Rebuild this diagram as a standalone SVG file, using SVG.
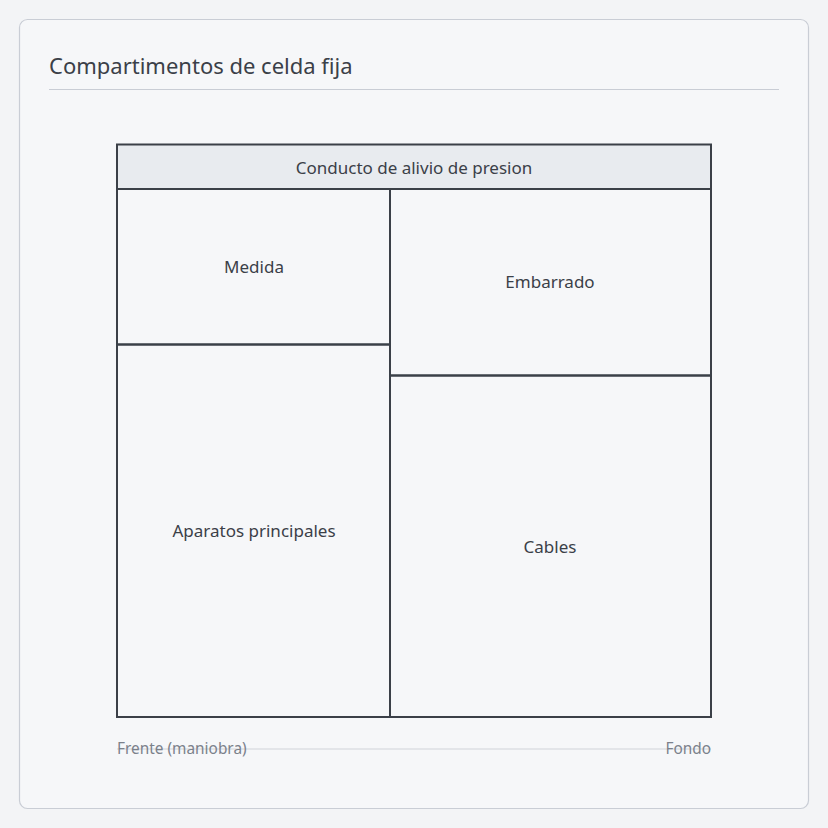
<svg xmlns="http://www.w3.org/2000/svg" width="828" height="828" viewBox="0 0 828 828">
<style>
.t{font-family:"Noto Sans","Open Sans",sans-serif;fill:#3b4048}
.c{font-size:17px;text-anchor:middle;dominant-baseline:central}
.box{fill:none;stroke:#3b4048;stroke-width:2}
.ax{font-family:"Noto Sans","Open Sans",sans-serif;font-size:15.4px;fill:#7b818b;dominant-baseline:central}
</style>
<rect x="0" y="0" width="828" height="828" fill="#f3f4f6"/>
<rect x="19.5" y="19.5" width="789" height="789" rx="8" fill="#f6f7f9" stroke="#c9cdd5" stroke-width="1.2"/>
<text class="t" x="49" y="74" font-size="22">Compartimentos de celda fija</text>
<line x1="49" y1="89.5" x2="779" y2="89.5" stroke="#c9cdd5" stroke-width="1.2"/>
<g id="axis">
<line x1="117" y1="749" x2="711" y2="749" stroke="#cfd3da" stroke-width="1.2"/>
<text class="ax" x="117" y="748.5">Frente (maniobra)</text>
<text class="ax" x="711" y="748.5" text-anchor="end">Fondo</text>
</g>
<g id="header">
<rect x="117" y="144.5" width="594" height="44.5" fill="#e8ebef" stroke="#3b4048" stroke-width="2"/>
<text class="t c" x="414" y="167">Conducto de alivio de presion</text>
</g>
<g id="medida">
<rect class="box" x="117" y="189" width="273" height="155.5"/>
<text class="t c" x="254" y="266.5">Medida</text>
</g>
<g id="aparatos">
<rect class="box" x="117" y="344.5" width="273" height="372.5"/>
<text class="t c" x="254" y="530.5">Aparatos principales</text>
</g>
<g id="embarrado">
<rect class="box" x="390" y="189" width="321" height="186.5"/>
<text class="t c" x="550" y="281.5">Embarrado</text>
</g>
<g id="cables">
<rect class="box" x="390" y="375.5" width="321" height="341.5"/>
<text class="t c" x="550" y="546.5">Cables</text>
</g>
</svg>
